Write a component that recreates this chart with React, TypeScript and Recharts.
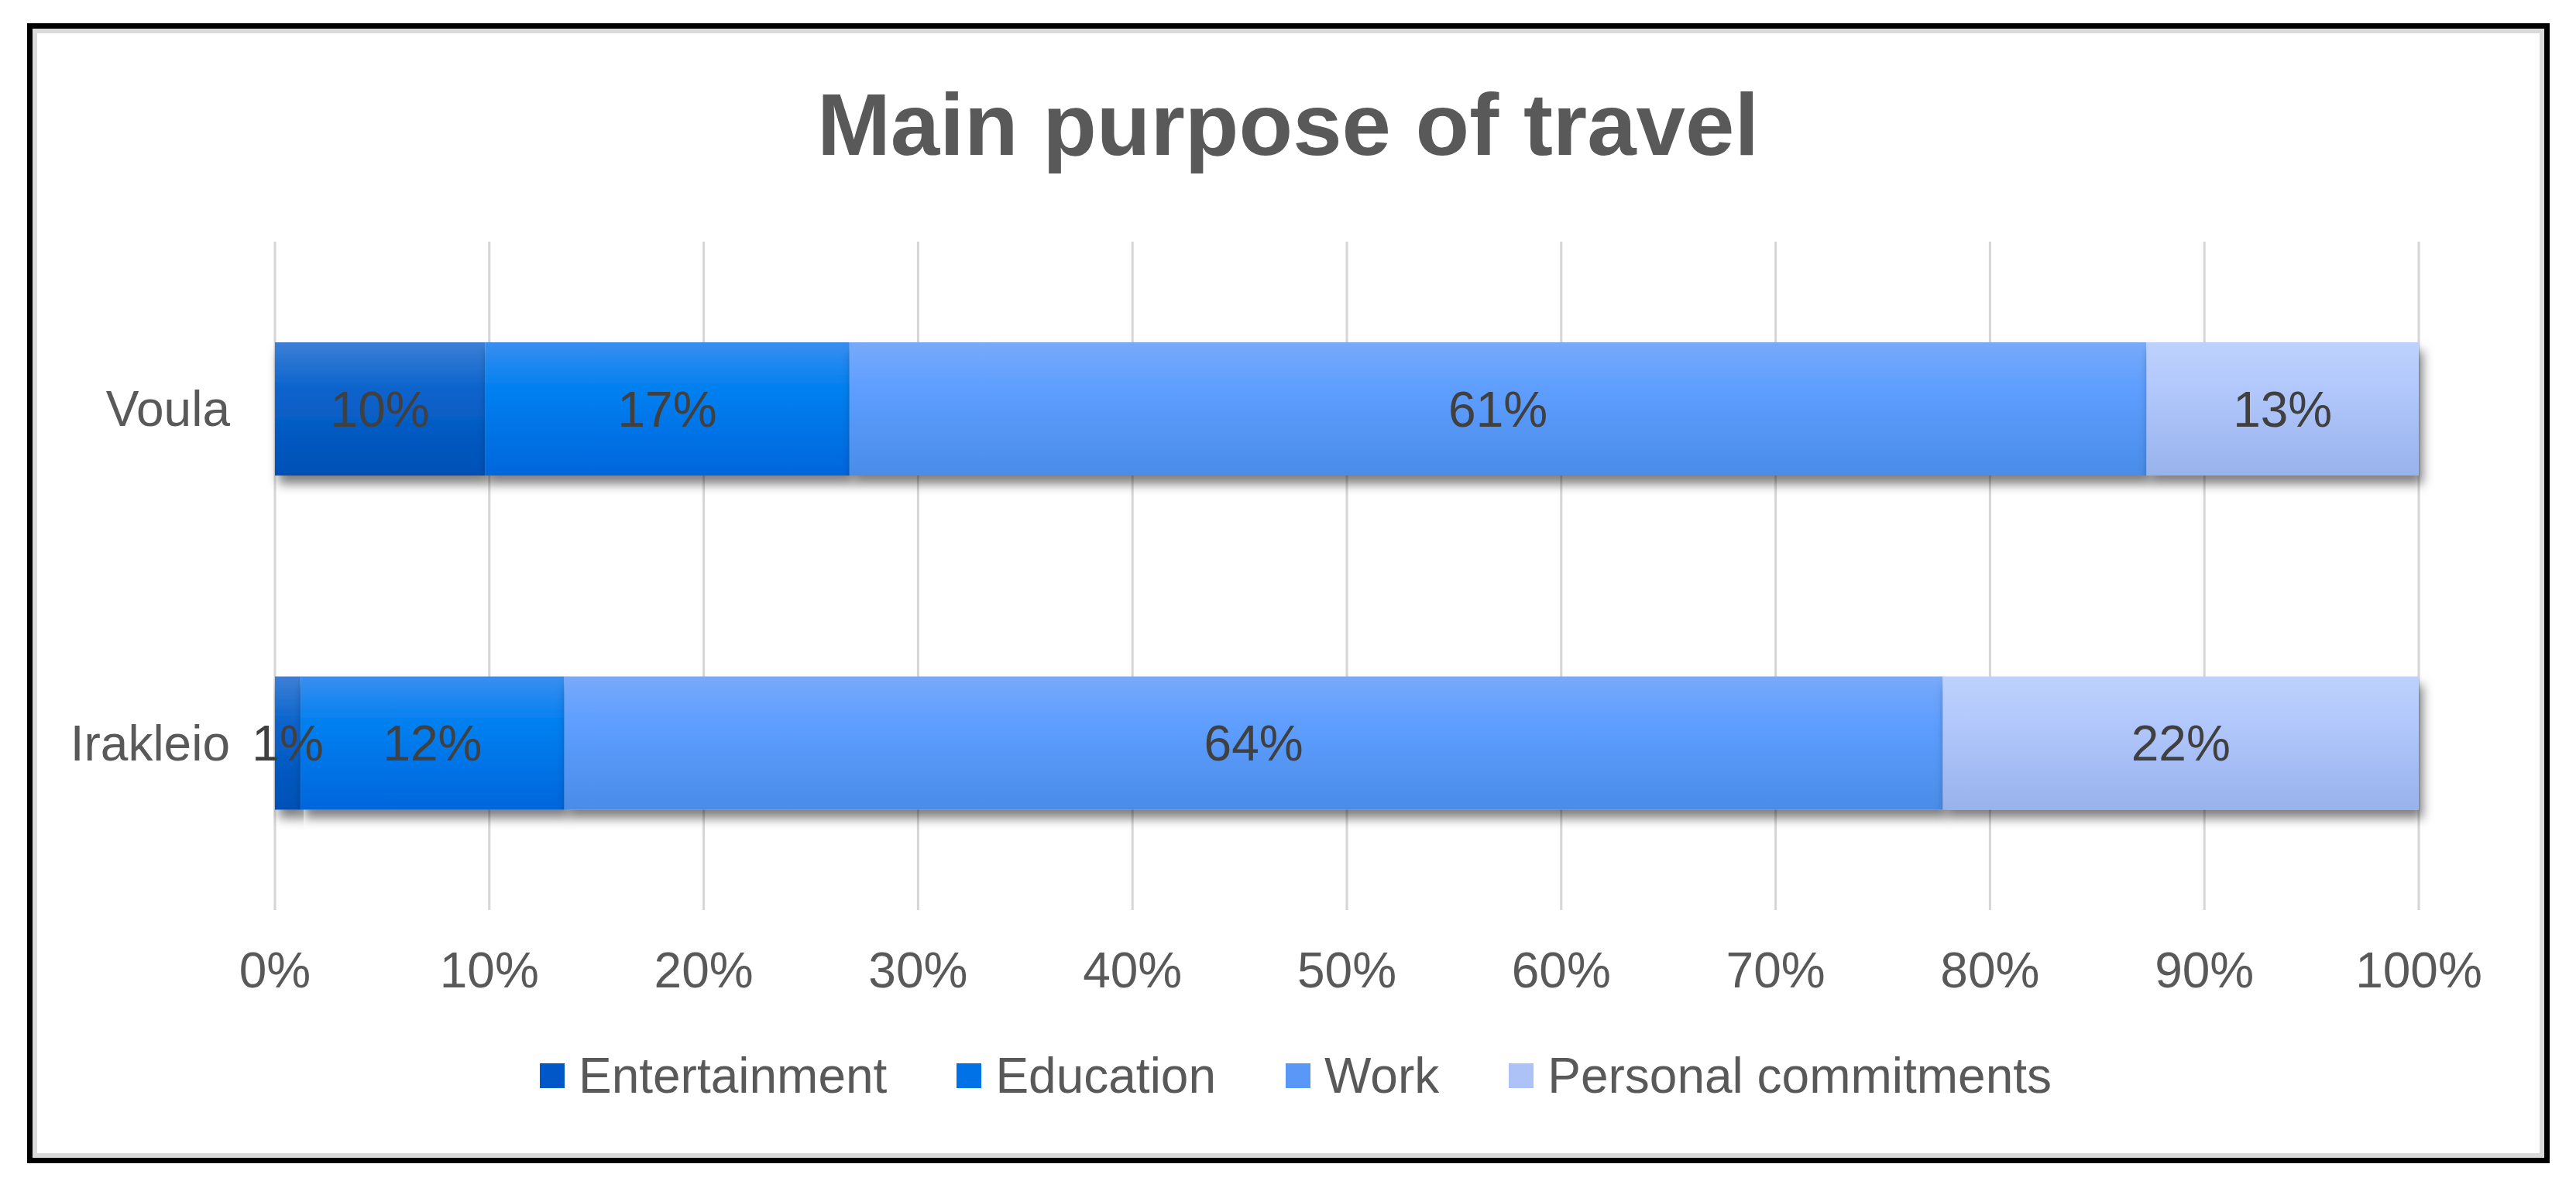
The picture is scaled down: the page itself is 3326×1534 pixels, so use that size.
import {
  BarChart,
  Bar,
  XAxis,
  YAxis,
  CartesianGrid,
  Legend,
  LabelList,
} from "recharts";

const categories = ["Voula", "Irakleio"];
const entertainment = [9.8, 1.2];
const education = [17.0, 12.3];
const work = [60.5, 64.3];
const personal = [12.7, 22.2];
const xTicks = [0, 10, 20, 30, 40, 50, 60, 70, 80, 90, 100];

const SERIES = [
  { key: "Entertainment", values: entertainment, grad: "gEnt", swatch: "#0058c8", stops: ["#3d7fd6", "#0a64cc", "#0050b6"] },
  { key: "Education", values: education, grad: "gEdu", swatch: "#0072e8", stops: ["#3a8ef0", "#0080f0", "#0066dc"] },
  { key: "Work", values: work, grad: "gWork", swatch: "#5a98f8", stops: ["#78aafa", "#5e9eff", "#4a8ce8"] },
  { key: "Personal commitments", values: personal, grad: "gPers", swatch: "#adc3f8", stops: ["#bed1fd", "#b2c8fc", "#98b2ec"] },
];

const data = categories.map((name, i) => {
  const row: Record<string, any> = { name };
  SERIES.forEach((s) => (row[s.key] = s.values[i]));
  return row;
});

const FONT = "'Liberation Sans', Arial, sans-serif";

/** Legend laid out like the Excel one: small squares, wide gaps */
function LegendRow() {
  return (
    <div
      style={{
        display: "flex",
        justifyContent: "center",
        alignItems: "center",
        height: 64,
        fontFamily: FONT,
        fontSize: 64,
        color: "#595959",
        paddingLeft: 20,
      }}
    >
      {SERIES.map((s, i) => (
        <div
          key={s.key}
          style={{ display: "flex", alignItems: "center", marginLeft: i ? 90 : 0 }}
        >
          <span
            style={{ width: 32, height: 32, background: s.swatch, marginRight: 18, display: "inline-block" }}
          />
          <span style={{ lineHeight: 1 }}>{s.key}</span>
        </div>
      ))}
    </div>
  );
}

export default function App() {
  return (
    <div style={{ position: "absolute", left: 0, top: 0, width: 3326, height: 1534, background: "#fff" }}>
      {/* frame */}
      <div
        style={{
          position: "absolute",
          left: 35,
          top: 30,
          width: 3257,
          height: 1472,
          border: "7px solid #000",
          boxShadow: "inset 0 0 0 6px #dadada",
          boxSizing: "border-box",
        }}
      />
      {/* title */}
      <div
        style={{
          position: "absolute",
          left: 0,
          width: 3326,
          top: 96,
          textAlign: "center",
          fontFamily: FONT,
          fontWeight: 700,
          fontSize: 114,
          lineHeight: "130px",
          color: "#595959",
        }}
      >
        Main purpose of travel
      </div>

      <div style={{ position: "absolute", left: 0, top: 0 }}>
        <BarChart
          width={3326}
          height={1534}
          data={data}
          layout="vertical"
          margin={{ top: 312, right: 203, bottom: 259, left: 0 }}
          barSize={172}
        >
          <defs>
            {SERIES.map((s) => (
              <linearGradient key={s.grad} id={s.grad} x1="0" y1="0" x2="0" y2="1">
                <stop offset="0%" stopColor={s.stops[0]} />
                <stop offset="35%" stopColor={s.stops[1]} />
                <stop offset="100%" stopColor={s.stops[2]} />
              </linearGradient>
            ))}
            <filter id="barShadow" x="-5%" y="-20%" width="115%" height="160%">
              <feDropShadow dx="5" dy="11" stdDeviation="7" floodColor="#000" floodOpacity="0.5" />
            </filter>
          </defs>
          <CartesianGrid horizontal={false} stroke="#d6d6d6" strokeWidth={3} />
          <XAxis
            type="number"
            domain={[0, 100]}
            ticks={xTicks}
            tickFormatter={(v) => `${v}%`}
            axisLine={false}
            tickLine={false}
            tickSize={0}
            tickMargin={55}
            height={100}
            interval={0}
            tick={{ fontSize: 64, fill: "#595959", fontFamily: FONT }}
          />
          <YAxis
            type="category"
            dataKey="name"
            width={355}
            axisLine={false}
            tickLine={false}
            tickSize={0}
            tickMargin={58}
            tick={{ fontSize: 64, fill: "#595959", fontFamily: FONT }}
          />
          <Legend
            layout="horizontal"
            verticalAlign="middle"
            align="center"
            wrapperStyle={{ top: 1357, left: 0, width: 3326 }}
            content={() => <LegendRow />}
          />
          {SERIES.map((s) => (
            <Bar
              key={s.key}
              dataKey={s.key}
              stackId="a"
              fill={`url(#${s.grad})`}
              filter="url(#barShadow)"
              isAnimationActive={false}
            >
              <LabelList
                dataKey={s.key}
                position="center"
                formatter={(v: any) => `${Math.round(Number(v))}%`}
                style={{ fontSize: 64, fill: "#404040", fontFamily: FONT }}
              />
            </Bar>
          ))}
        </BarChart>
      </div>
    </div>
  );
}
